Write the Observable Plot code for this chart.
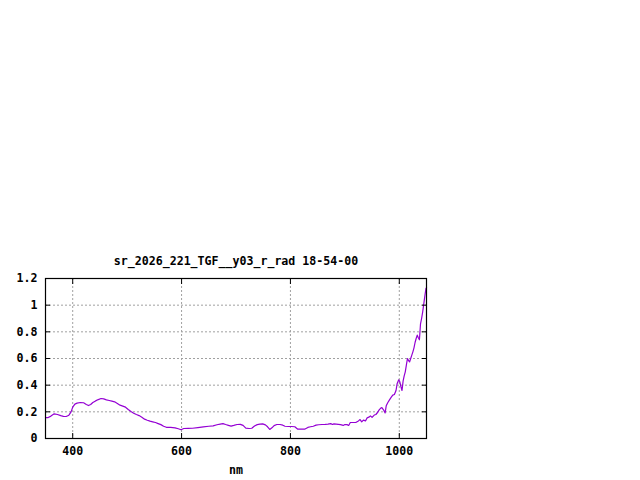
<!DOCTYPE html>
<html>
<head>
<meta charset="utf-8">
<script src="https://cdn.jsdelivr.net/npm/d3@7"></script>
<script src="https://cdn.jsdelivr.net/npm/@observablehq/plot@0.6"></script>
<style>
  html, body { margin: 0; padding: 0; background: #fff; }
  #chart svg { display: block; }
</style>
</head>
<body>
<div id="chart"></div>
<script>
const title = "sr_2026_221_TGF__y03_r_rad 18-54-00";
const xLabel = "nm";
const xTicks = [400, 600, 800, 1000];
const yTicks = [0, 0.2, 0.4, 0.6, 0.8, 1, 1.2];

const wavelength = [350, 355, 360, 366, 372, 378, 383, 388, 393, 397, 400, 404, 408, 414, 420, 425, 429, 433, 437, 442, 447, 452, 457, 462, 467, 472, 477, 482, 487, 492, 497, 502, 507, 512, 517, 522, 527, 532, 537, 542, 547, 552, 557, 562, 567, 572, 580, 588, 594, 599, 604, 612, 620, 630, 640, 650, 658, 665, 671, 676, 681, 686, 691, 696, 702, 708, 713, 718, 724, 729, 734, 739, 744, 749, 754, 758, 762, 766, 770, 775, 781, 786, 790, 796, 802, 808, 813, 819, 826, 832, 837, 842, 847, 852, 858, 864, 869, 874, 877, 880, 884, 888, 892, 897, 900, 904, 907, 910, 915, 920, 925, 928, 931, 934, 938, 941, 945, 947, 950, 954, 957, 960, 963, 966, 968, 971, 974, 976, 979, 982, 985, 988, 991, 994, 996, 999, 1001, 1003, 1005, 1007, 1009, 1011, 1013, 1015, 1017, 1019, 1021, 1023, 1025, 1027, 1029, 1031, 1033, 1035, 1037, 1039, 1041, 1043, 1045, 1047, 1049, 1050];

const radiance = [0.157, 0.157, 0.168, 0.185, 0.180, 0.172, 0.166, 0.165, 0.175, 0.200, 0.235, 0.258, 0.265, 0.270, 0.268, 0.255, 0.247, 0.255, 0.270, 0.282, 0.292, 0.300, 0.297, 0.290, 0.285, 0.280, 0.275, 0.263, 0.250, 0.243, 0.235, 0.218, 0.203, 0.190, 0.180, 0.172, 0.160, 0.145, 0.137, 0.130, 0.125, 0.120, 0.112, 0.104, 0.092, 0.084, 0.083, 0.080, 0.073, 0.066, 0.075, 0.076, 0.077, 0.082, 0.087, 0.092, 0.095, 0.103, 0.108, 0.112, 0.105, 0.099, 0.093, 0.098, 0.105, 0.106, 0.098, 0.078, 0.075, 0.077, 0.094, 0.104, 0.108, 0.110, 0.102, 0.088, 0.068, 0.080, 0.097, 0.105, 0.105, 0.100, 0.092, 0.090, 0.090, 0.088, 0.071, 0.070, 0.070, 0.083, 0.088, 0.092, 0.100, 0.103, 0.105, 0.106, 0.108, 0.112, 0.105, 0.110, 0.108, 0.106, 0.104, 0.098, 0.105, 0.104, 0.098, 0.120, 0.120, 0.120, 0.132, 0.142, 0.125, 0.138, 0.132, 0.155, 0.162, 0.170, 0.158, 0.176, 0.180, 0.195, 0.215, 0.228, 0.232, 0.215, 0.192, 0.245, 0.270, 0.290, 0.308, 0.325, 0.330, 0.360, 0.410, 0.440, 0.425, 0.390, 0.360, 0.430, 0.470, 0.500, 0.550, 0.600, 0.585, 0.575, 0.600, 0.625, 0.650, 0.680, 0.720, 0.750, 0.775, 0.755, 0.740, 0.860, 0.900, 0.950, 1.010, 1.070, 1.125, 1.130];

const data = wavelength.map((w, i) => ({w, v: radiance[i]}));

const font = "'DejaVu Sans Mono', 'Liberation Mono', monospace";
const fmt = d => String(d);

const chart = Plot.plot({
  width: 640,
  height: 480,
  marginLeft: 45,
  marginRight: 214,
  marginTop: 278,
  marginBottom: 42,
  style: {fontFamily: font, fontSize: "11.6px", fontWeight: "bold", color: "#000", background: "#fff"},
  x: {domain: [350, 1050], ticks: xTicks},
  y: {domain: [0, 1.2], ticks: yTicks},
  marks: [
    Plot.gridX(xTicks, {stroke: "#a0a0a0", strokeOpacity: 1, strokeDasharray: "2,2"}),
    Plot.gridY(yTicks.slice(1, -1), {stroke: "#a0a0a0", strokeOpacity: 1, strokeDasharray: "2,2"}),
    Plot.line(data, {x: "w", y: "v", stroke: "#9400d3", strokeWidth: 1.2}),
    Plot.frame({stroke: "#000", strokeWidth: 1.2}),
    Plot.axisX(xTicks, {anchor: "bottom", tickSize: 0, tickPadding: 8, label: null, tickFormat: fmt, fontWeight: "bold", fontSize: 11.6}),
    Plot.axisX(xTicks, {anchor: "bottom", tickSize: -5, text: null, label: null}),
    Plot.axisX(xTicks, {anchor: "top", tickSize: -5, text: null, label: null}),
    Plot.axisY(yTicks, {anchor: "left", tickSize: 0, tickPadding: 8, label: null, tickFormat: fmt, fontWeight: "bold", fontSize: 11.6}),
    Plot.axisY(yTicks, {anchor: "left", tickSize: -5, text: null, label: null}),
    Plot.axisY(yTicks, {anchor: "right", tickSize: -5, text: null, label: null}),
    Plot.text([title], {frameAnchor: "top", dy: -22, fontWeight: "bold", fontSize: 11.6, fill: "#000"}),
    Plot.text([xLabel], {frameAnchor: "bottom", dy: 35, fontWeight: "bold", fontSize: 11.6, fill: "#000"})
  ]
});
document.getElementById("chart").appendChild(chart);
</script>
</body>
</html>
